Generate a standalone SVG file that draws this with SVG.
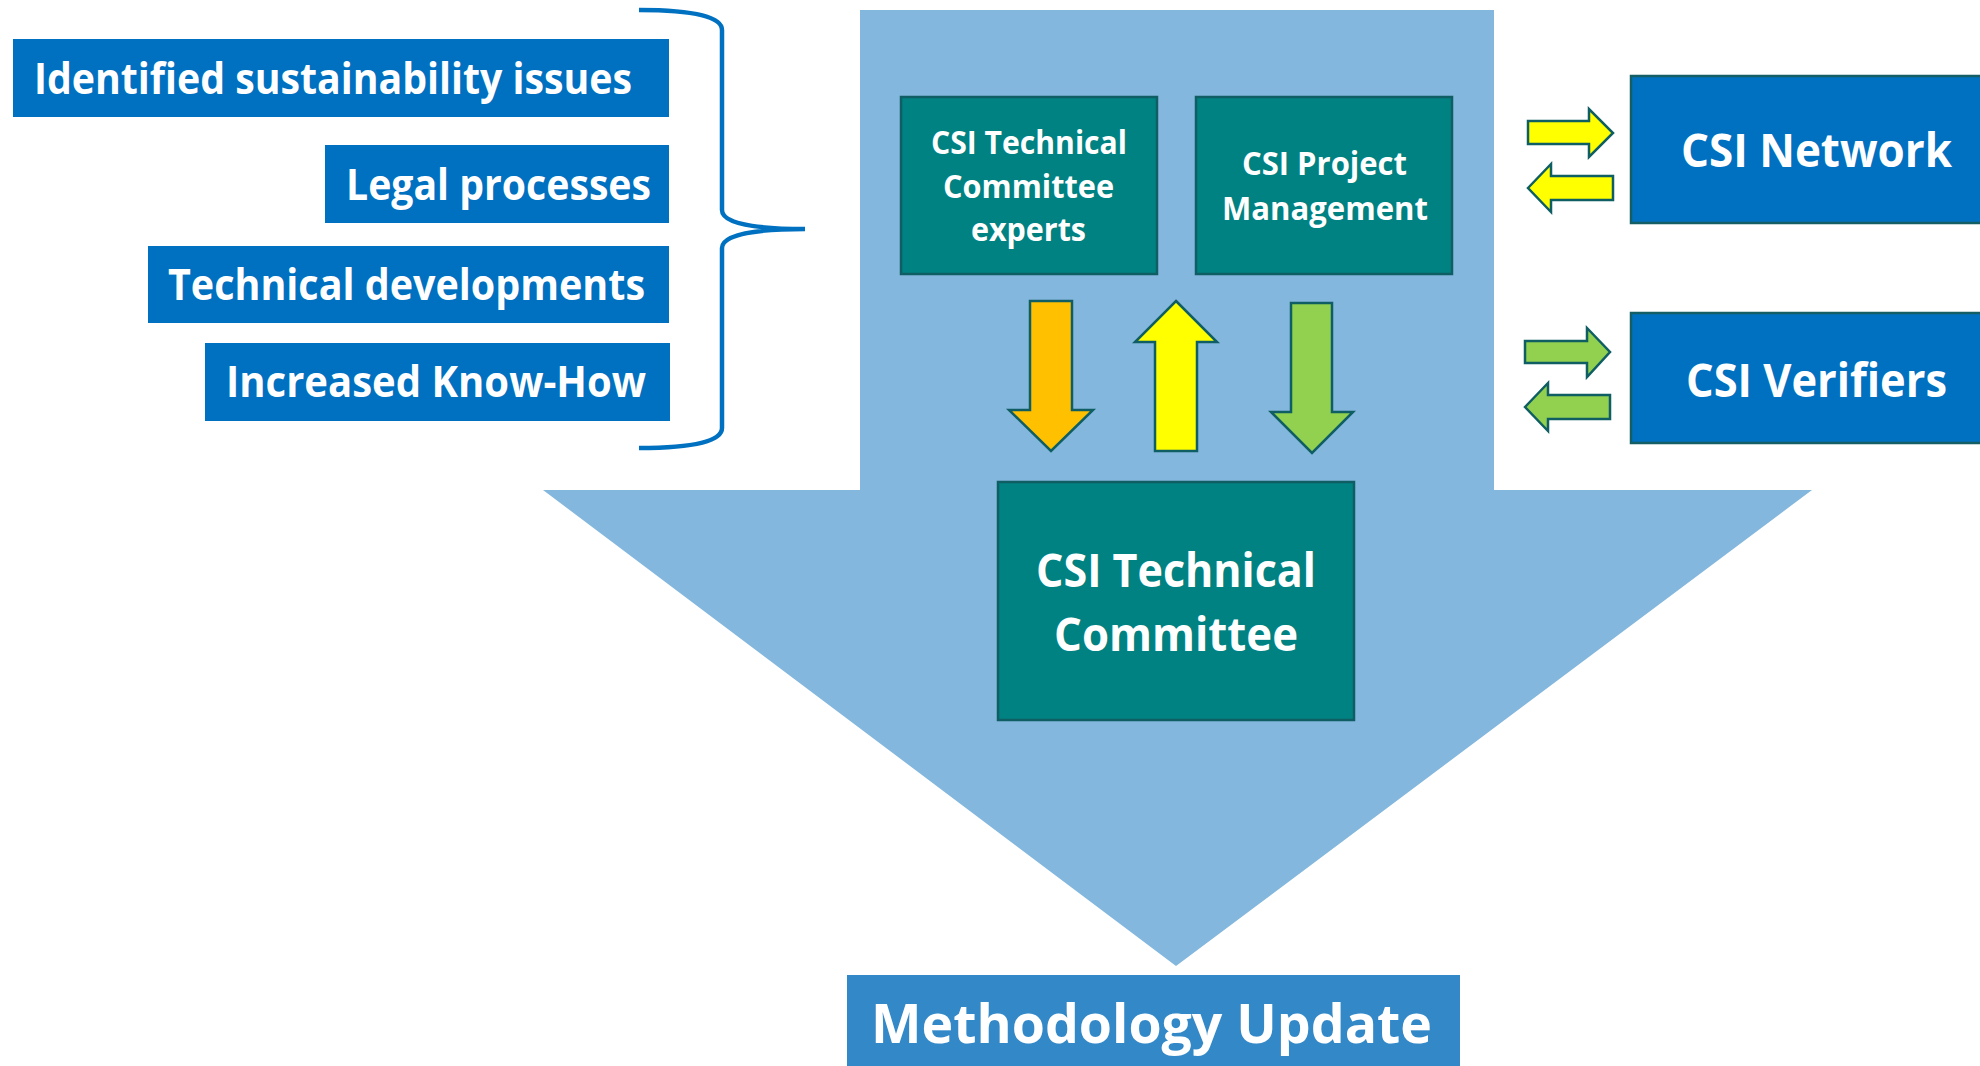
<svg xmlns="http://www.w3.org/2000/svg" width="1980" height="1066" viewBox="0 0 1980 1066">
<style>
  .t { font-family: "Open Sans", "Liberation Sans", sans-serif; font-weight: 700; fill: #FFFFFF; }
  .blue { fill: #0070C0; }
  .teal { fill: #008282; stroke: #0E5E63; stroke-width: 2.5; }
  .rbox { fill: #0070C0; stroke: #145E66; stroke-width: 2.5; }
  .arr { stroke: #0E5E63; stroke-width: 2.5; stroke-linejoin: miter; }
  .brace { fill: none; stroke: #0070C0; stroke-width: 4.5; }
</style>
<rect width="1980" height="1066" fill="#FFFFFF"/>

<g id="big-arrow">
  <polygon points="860,10 1494,10 1494,490 1812,490 1176,966 543,490 860,490" fill="#84B7DD"/>
</g>

<g id="issue-sustainability">
  <rect class="blue" x="13" y="39" width="656" height="78"/>
  <text class="t" x="34" y="94" font-size="43" textLength="598" lengthAdjust="spacingAndGlyphs">Identified sustainability issues</text>
</g>
<g id="issue-legal">
  <rect class="blue" x="325" y="145" width="344" height="78"/>
  <text class="t" x="346" y="200" font-size="43" textLength="305" lengthAdjust="spacingAndGlyphs">Legal processes</text>
</g>
<g id="issue-technical">
  <rect class="blue" x="148" y="246" width="521" height="77"/>
  <text class="t" x="168" y="300" font-size="43" textLength="477" lengthAdjust="spacingAndGlyphs">Technical developments</text>
</g>
<g id="issue-knowhow">
  <rect class="blue" x="205" y="343" width="465" height="78"/>
  <text class="t" x="226" y="397" font-size="43" textLength="420" lengthAdjust="spacingAndGlyphs">Increased Know-How</text>
</g>

<g id="brace">
  <path class="brace" d="M639,10 C695,10 722,17 722,30 L722,210 C722,222 748,229 805,229 C748,229 722,236 722,248 L722,428 C722,441 695,448 639,448"/>
</g>

<g id="tc-experts">
  <rect class="teal" x="901" y="97" width="256" height="177"/>
  <text class="t" x="931" y="154" font-size="33" textLength="196" lengthAdjust="spacingAndGlyphs">CSI Technical</text>
  <text class="t" x="943" y="198" font-size="33" textLength="171" lengthAdjust="spacingAndGlyphs">Committee</text>
  <text class="t" x="971" y="241" font-size="33" textLength="115" lengthAdjust="spacingAndGlyphs">experts</text>
</g>
<g id="project-management">
  <rect class="teal" x="1196" y="97" width="256" height="177"/>
  <text class="t" x="1242" y="175" font-size="33" textLength="165" lengthAdjust="spacingAndGlyphs">CSI Project</text>
  <text class="t" x="1222" y="220" font-size="33" textLength="206" lengthAdjust="spacingAndGlyphs">Management</text>
</g>

<g id="technical-committee">
  <rect class="teal" x="998" y="482" width="356" height="238"/>
  <text class="t" x="1036" y="587" font-size="47" textLength="280" lengthAdjust="spacingAndGlyphs">CSI Technical</text>
  <text class="t" x="1054" y="651" font-size="47" textLength="244" lengthAdjust="spacingAndGlyphs">Committee</text>
</g>

<g id="csi-network">
  <rect class="rbox" x="1631" y="76" width="360" height="147"/>
  <text class="t" x="1681" y="167" font-size="47" textLength="271" lengthAdjust="spacingAndGlyphs">CSI Network</text>
</g>
<g id="csi-verifiers">
  <rect class="rbox" x="1631" y="313" width="360" height="130"/>
  <text class="t" x="1686" y="397" font-size="47" textLength="261" lengthAdjust="spacingAndGlyphs">CSI Verifiers</text>
</g>

<g id="methodology-update">
  <rect x="847" y="975" width="613" height="100" fill="#3388C8"/>
  <text class="t" x="871" y="1043" font-size="53" textLength="561" lengthAdjust="spacingAndGlyphs">Methodology Update</text>
</g>

<g id="connectors">
  <polygon class="arr" fill="#FFC000" points="1030,301 1072,301 1072,410 1093,410 1051,451 1009,410 1030,410"/>
  <polygon class="arr" fill="#FFFF00" points="1176,301 1217,342 1197,342 1197,451 1155,451 1155,342 1135,342"/>
  <polygon class="arr" fill="#92D050" points="1291,303 1332,303 1332,412 1353,412 1312,453 1271,412 1291,412"/>
  <polygon class="arr" fill="#FFFF00" points="1528,121 1589,121 1589,109 1613,133 1589,157 1589,144 1528,144"/>
  <polygon class="arr" fill="#FFFF00" points="1528,188 1551,164 1551,176 1613,176 1613,200 1551,200 1551,212"/>
  <polygon class="arr" fill="#92D050" points="1525,341 1587,341 1587,328 1610,352 1587,377 1587,363 1525,363"/>
  <polygon class="arr" fill="#92D050" points="1525,407 1548,383 1548,395 1610,395 1610,419 1548,419 1548,431"/>
</g>
</svg>
